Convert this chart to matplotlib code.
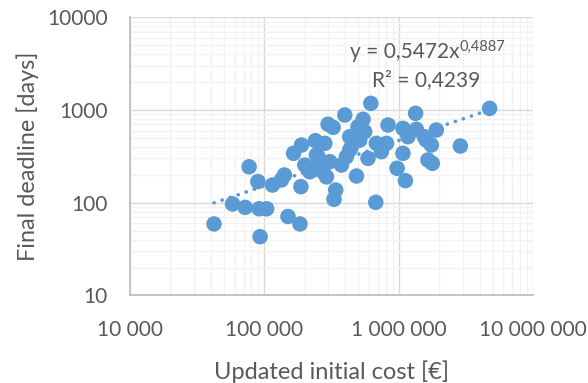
import numpy as np
from matplotlib import pyplot as plt
from matplotlib import ticker

plt.rcParams["font.family"] = ["Lato", "DejaVu Sans"]

blue = "#5B9BD5"
grey_text = "#595959"

# updated initial cost [EUR] and final deadline [days]
cost = [42200, 58000, 72000, 77000, 89500, 91500, 104000, 93000, 115000,
        134000, 141000, 150000, 165000, 184000, 187000, 189000, 200000,
        218000, 231000, 240000, 251000, 244000, 259000, 282000, 298000,
        325000, 307000, 290000, 340000, 330000, 375000, 397000, 408000,
        432000, 432000, 445000, 485000, 498000, 513000, 543000, 558000,
        591000, 620000, 675000, 682000, 743000, 811000, 833000, 973000,
        1076000, 1076000, 1122000, 1172000, 1336000, 1355000, 1550000,
        1603000, 1651000, 1750000, 1780000, 1906000, 2876000, 4750000,
        273000]
deadline = [59, 97, 89, 244, 169, 86, 86, 43, 155,
            176, 199, 71, 341, 59, 149, 419, 255,
            216, 226, 467, 313, 327, 241, 437, 702,
            650, 277, 190, 137, 109, 255, 883, 313,
            515, 371, 402, 194, 660, 474, 794, 584,
            301, 1180, 101, 437, 355, 437, 689, 235,
            634, 341, 173, 515, 921, 619, 515,
            474, 289, 419, 266, 608, 409, 1042,
            216]

# power trendline from the chart
coef_a = 0.5472
coef_b = 0.4887
eq_text = "y = 0,5472x"
eq_exp = "0,4887"
r2_text = "R² = 0,4239"

x_ticks = [1e4, 1e5, 1e6, 1e7]
y_ticks = [10, 100, 1000, 10000]

fig = plt.figure(figsize=(5.88, 3.83), dpi=100)
ax = fig.add_axes([0.2211, 0.2287, 0.6854, 0.7261])

ax.set_xscale("log")
ax.set_yscale("log")
ax.set_xlim(1e4, 1e7)
ax.set_ylim(10, 10000)

ax.grid(True, which="major", color="#D9D9D9", lw=1.0, zorder=0)
ax.grid(True, which="minor", color="#F2F2F2", lw=1.0, zorder=0)
ax.set_axisbelow(True)

ax.scatter(cost, deadline, s=125, color=blue, edgecolors="none", zorder=3)

xt = np.geomspace(min(cost), max(cost), 200)
ax.plot(xt, coef_a * xt ** coef_b, color=blue, lw=2.6,
        linestyle=(0, (0.05, 2.3)), dash_capstyle="round", zorder=2)

ax.set_xticks(x_ticks)
ax.set_yticks(y_ticks)
ax.xaxis.set_major_formatter(
    ticker.FuncFormatter(lambda v, p: f"{int(round(v)):,}".replace(",", " ")))
ax.yaxis.set_major_formatter(ticker.FuncFormatter(lambda v, p: f"{int(round(v))}"))
ax.tick_params(which="both", length=0, labelsize=15, colors=grey_text)
ax.tick_params(axis="x", pad=18)
ax.tick_params(axis="y", pad=16)

for side in ("top", "right"):
    ax.spines[side].set_visible(False)
for side in ("left", "bottom"):
    ax.spines[side].set_color("#BFBFBF")
    ax.spines[side].set_linewidth(1.3)

ax.set_xlabel("Updated initial cost [€]", fontsize=17, color=grey_text)
ax.set_ylabel("Final deadline [days]", fontsize=16.8, color=grey_text)
ax.xaxis.set_label_coords(0.5, -0.235)
ax.yaxis.set_label_coords(-0.225, 0.5)

# equation text placed in figure pixels (measured from the top edge)
t = ax.text(350 / 100, (383 - 52) / 100, eq_text, transform=fig.dpi_scale_trans,
            fontsize=15, color=grey_text, ha="left", va="center")
ax.annotate(eq_exp, xy=(1.0, 0.78), xycoords=t, fontsize=10.5, color=grey_text,
            ha="left", va="center")
ax.text(372 / 100, (383 - 80) / 100, r2_text, transform=fig.dpi_scale_trans,
        fontsize=15, color=grey_text, ha="left", va="center")

fig.savefig("out.png", dpi=100)
